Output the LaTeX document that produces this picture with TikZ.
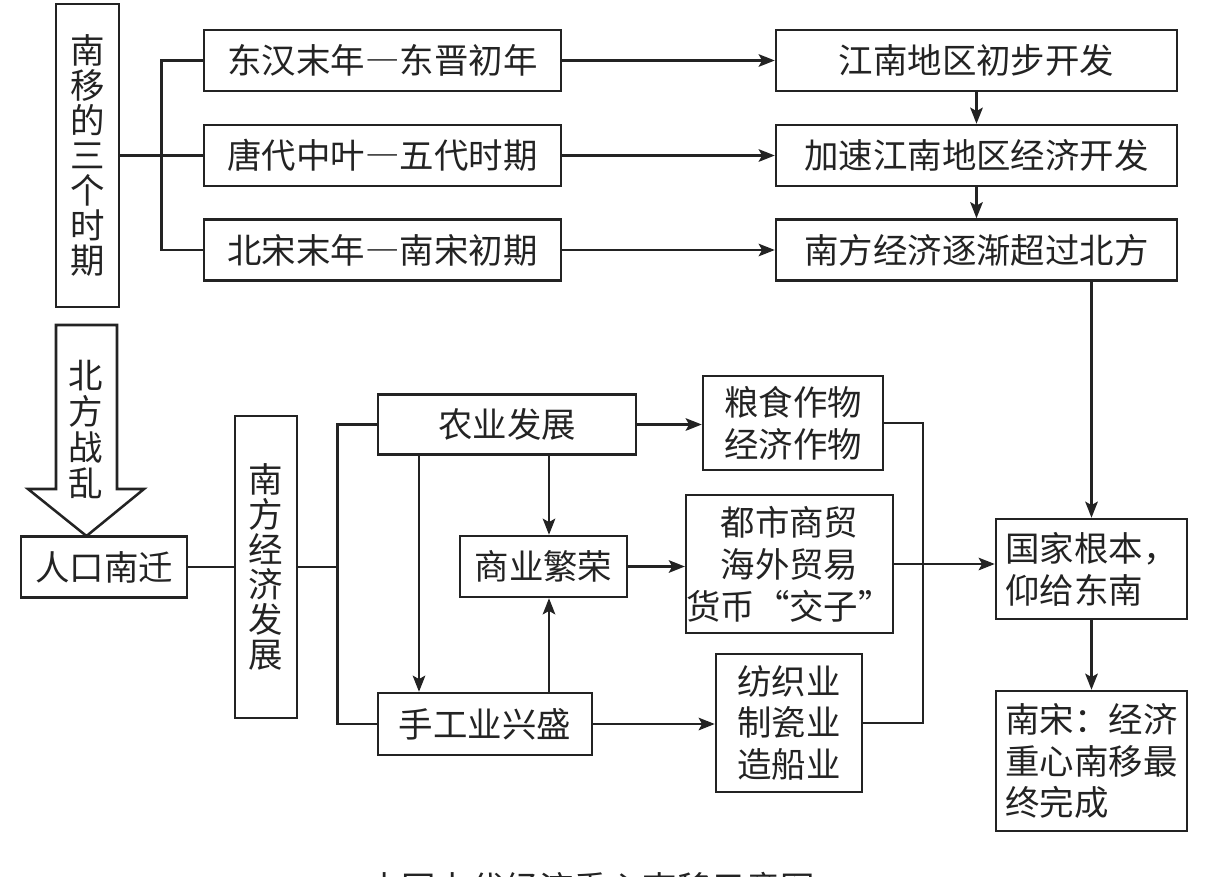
\documentclass[tikz,border=0pt]{standalone}
\usepackage{fontspec}
\newfontfamily\cjk{Noto Sans CJK SC}
\usepackage{tikz}
\usetikzlibrary{arrows.meta}
\usetikzlibrary{calc}
\usetikzlibrary{positioning}
\newcommand\pxu{0.025cm}
\newcommand\fulldash{{\addfontfeatures{RawFeature=+fwid}—}}
\definecolor{ink}{RGB}{35,35,35}
\tikzset{
    flow box/.style={
        draw=ink,
        text=ink,
        line width=1.8pt,
        inner sep=0pt,
        align=center,
        font=\cjk\fontsize{24.5pt}{29.8pt}\selectfont,
    },
    column box/.style={
        flow box,
        font=\cjk\fontsize{24.5pt}{24.9pt}\selectfont,
    },
    box size/.style 2 args={
        minimum width=#1*\pxu,
        minimum height=#2*\pxu,
    },
    link line/.style={
        draw=ink,
        line width=1.45pt,
    },
    link arrow/.style={
        link line,
        -{Stealth[length=11.5pt,width=9pt,inset=2.5pt]},
    },
}

\begin{document}
\begin{tikzpicture}[x=\pxu, y=-\pxu]

    \useasboundingbox (0,0) rectangle (1209,876);

    % three periods of the move south
    \node[column box, box size={63}{303}] (nanyi) at (87.5,155.5) {南\\移\\的\\三\\个\\时\\期};

    \foreach \i/\y/\period/\result in {
        1/60.5/东汉末年\fulldash 东晋初年/江南地区初步开发,
        2/155.5/唐代中叶\fulldash 五代时期/加速江南地区经济开发,
        3/250/北宋末年\fulldash 南宋初期/南方经济逐渐超过北方}
    {
        \node[flow box, box size={357}{61}] (p\i) at (382.5,\y) {\period};
        \node[flow box, box size={401}{61}] (r\i) at (976.5,\y) {\result};
        \draw[link arrow] (p\i.east) -- (r\i.west);
    }

    \coordinate (fork) at ($(nanyi.east)!0.5!(p2.west)$);
    \draw[link line] (nanyi.east) -- (p2.west);
    \draw[link line] (p1.west) -| (fork) |- (p3.west);

    \draw[link arrow] (r1.south) -- (r2.north);
    \draw[link arrow] (r2.south) -- (r3.north);

    % war in the north
    \draw[draw=ink, line width=1.8pt] (56,325) -- (117,325) -- (117,489) -- (144,489)
        -- (86.5,536) -- (28,489) -- (56,489) -- cycle;
    \node[column box, draw=none, font=\cjk\fontsize{24.5pt}{25.6pt}\selectfont] (war) at (86,429) {北\\方\\战\\乱};

    \node[flow box, box size={166}{61}] (rk) at (104,567) {人口南迁};
    \node[column box, box size={62}{302}] (nj) at (266,567) {南\\方\\经\\济\\发\\展};

    \node[flow box, box size={258}{60}] (ny) at (507,424.5) {农业发展};
    \node[flow box, box size={167}{61}] (sy) at (543.5,566.5) {商业繁荣};
    \node[flow box, box size={214}{62}] (sg) at (485,724) {手工业兴盛};

    \node[flow box, box size={180}{94}] (ly) at (793,423) {粮食作物\\经济作物};
    \node[flow box, box size={203}{138}] (ds) at (789.5,564) {都市商贸\\海外贸易\\货币“交子”};
    \node[flow box, box size={146}{138}] (fz) at (789,723) {纺织业\\制瓷业\\造船业};

    \node[flow box, align=left, box size={191}{100}] (gj) at (1091.5,569) {国家根本，\\仰给东南};
    \node[flow box, align=left, box size={191}{140}] (ns) at (1091.5,761) {南宋：经济\\重心南移最\\终完成};

    \draw[link line] (rk.east) -- (nj.west);
    \coordinate (hub) at (337.5,567);
    \draw[link line] (nj.east) -- (hub);
    \draw[link line] (ny.west) -| (hub) |- (sg.west);

    \coordinate (dropL) at (419,600);
    \coordinate (dropR) at (549,600);
    \draw[link arrow] (ny.south -| dropL) -- (sg.north -| dropL);
    \draw[link arrow] (ny.south -| dropR) -- (sy.north -| dropR);
    \draw[link arrow] (sg.north -| dropR) -- (sy.south -| dropR);

    \draw[link arrow] (ny.east) -- (ny.east -| ly.west);
    \draw[link arrow] (sy.east) -- (sy.east -| ds.west);
    \draw[link arrow] (sg.east) -- (sg.east -| fz.west);

    \coordinate (merge) at (923,566);
    \draw[link line] (ly.east) -| (merge) |- (fz.east);
    \draw[link arrow] (ds.east) -- (ds.east -| gj.west);

    \draw[link arrow] (gj.north |- r3.south) -- (gj.north);
    \draw[link arrow] (gj.south) -- (ns.north);

    % caption, cut by the lower edge as in the scan
    \node[text=ink, font=\cjk\fontsize{24.5pt}{29.8pt}\selectfont] (title) at (591,888) {中国古代经济重心南移示意图};

\end{tikzpicture}
\end{document}
